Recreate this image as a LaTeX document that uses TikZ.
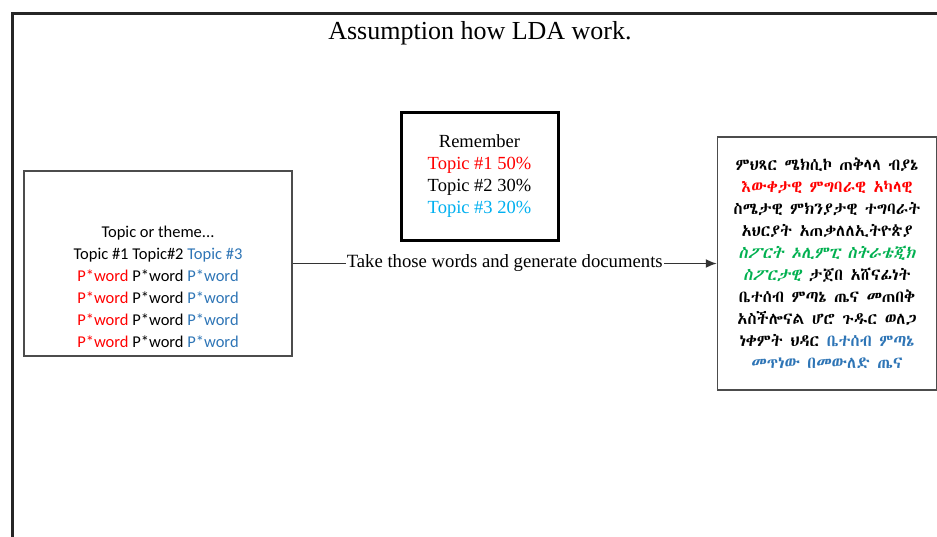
\documentclass[tikz,border=0pt]{standalone}
\usepackage{fontspec}
\usetikzlibrary{arrows.meta}
\usetikzlibrary{positioning}

\setmainfont{Liberation Serif}
\newfontfamily\topicfont{Carlito}
\IfFontExistsTF{Abyssinica SIL}
  {\newfontfamily\ethfont{Abyssinica SIL}
   \newfontfamily\ethslant[FakeSlant=0.2]{Abyssinica SIL}}
  {\IfFontExistsTF{FreeSerif}
    {\newfontfamily\ethfont{FreeSerif}
     \newfontfamily\ethslant[FakeSlant=0.2]{FreeSerif}}
    {\newfontfamily\ethfont{DejaVu Sans}
     \newfontfamily\ethslant[FakeSlant=0.2]{DejaVu Sans}}}

\definecolor{tred}{RGB}{255,0,0}
\definecolor{tblue}{RGB}{46,117,182}
\definecolor{tcyan}{RGB}{0,176,240}
\definecolor{tgreen}{RGB}{0,176,80}

\begin{document}
\begin{tikzpicture}[->,>={Latex[length=11pt,width=9pt]},x=1pt,y=-1pt,semithick]
            % styles
            \tikzstyle{thinbox}=[draw=black!70,line width=1.5pt,fill=white,inner sep=0pt]
            \tikzstyle{thickbox}=[draw=black,line width=3pt,fill=white,inner sep=0pt]

            \useasboundingbox (0,0) rectangle (937,536);
            \clip (0,0) rectangle (937,536);

            % outer frame
            \draw[-,line width=3pt,black!85] (12,570) -- (12,13) -- (970,13);
            \node (title) at (480,33) {\fontsize{26}{30}\selectfont Assumption how LDA work.};

            % boxes
            \node[thinbox,minimum width=268,minimum height=185] (topics) at (158,263.5) {};
            \node[anchor=south,align=center,font=\topicfont\fontsize{16.5}{22}\selectfont]
              (topicwords) at ([yshift=6pt]topics.south)
              {Topic or theme...\\
               Topic \#1 Topic\#2 \textcolor{tblue}{Topic \#3}\\
               \textcolor{tred}{P*word} P*word \textcolor{tblue}{P*word}\\
               \textcolor{tred}{P*word} P*word \textcolor{tblue}{P*word}\\
               \textcolor{tred}{P*word} P*word \textcolor{tblue}{P*word}\\
               \textcolor{tred}{P*word} P*word \textcolor{tblue}{P*word}};
            \node[thickbox,minimum width=157,minimum height=128,align=center,
                  font=\fontsize{18.5}{22}\selectfont] (remember) at (479.5,176)
              {Remember\\
               \textcolor{tred}{Topic \#1 50\%}\\
               Topic \#2 30\%\\
               \textcolor{tcyan}{Topic \#3 20\%}};
            \node[thinbox,minimum width=219,minimum height=253,align=center,
                  font=\ethfont\fontsize{16.5}{22}\selectfont] (docs) [right=424pt of topics]
              {ምህጻር ሜክሲኮ ጠቅላላ ብያኔ\\
               \textcolor{tred}{እውቀታዊ ምግባራዊ አካላዊ}\\
               ስሜታዊ ምክንያታዊ ተግባራት\\
               አህርያት አጠቃለለኢትዮጵያ\\
               \textcolor{tgreen}{\ethslant ስፖርት ኦሊምፒ ስትራቴጂክ}\\
               \textcolor{tgreen}{\ethslant ስፖርታዊ} ታጀበ አሸናፊነት\\
               ቤተሰብ ምጣኔ ጤና መጠበቅ\\
               አስችሎናል ሆሮ ጉዱር ወለጋ\\
               ነቀምት ህዳር \textcolor{tblue}{ቤተሰብ ምጣኔ}\\
               \textcolor{tblue}{መጥነው በመውለድ ጤና}};

            % connector
            \draw[black!80,line width=1.6pt] (topics) -- node[fill=white,inner xsep=1pt,text=black,
                  font=\fontsize{18.7}{22}\selectfont] (step1) {Take those words and generate documents} (docs);
        \end{tikzpicture}
\end{document}
